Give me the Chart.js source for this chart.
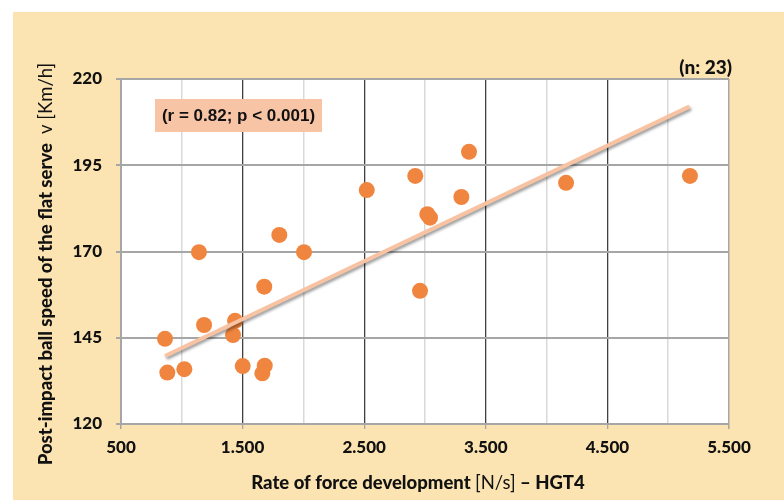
<!DOCTYPE html>
<html>
<head>
<meta charset="utf-8">
<script src="https://cdn.jsdelivr.net/npm/chart.js@4/dist/chart.umd.min.js"></script>
<style>
  html, body { margin: 0; padding: 0; background: #ffffff; }
  #wrap { width: 784px; height: 500px; }
</style>
</head>
<body>
<div id="wrap"><canvas id="c" width="784" height="500"></canvas></div>
<script>
// ---- data ----
const rfdValues   = [862, 881, 1021, 1141, 1183, 1438, 1421, 1501, 1662, 1682, 1678, 1802, 2005, 2521, 2920, 2959, 3019, 3041, 3299, 3362, 4160, 5179];
const speedValues = [144.7, 134.9, 135.9, 169.8, 148.7, 149.9, 145.8, 136.8, 134.7, 136.9, 159.8, 174.8, 169.8, 187.8, 191.9, 158.6, 180.8, 179.8, 185.8, 198.9, 189.9, 191.9];
const trendX = [862, 5174];
const trendY = [139.7, 212.0];
const xTickValues = [500, 1500, 2500, 3500, 4500, 5500];
const yTickValues = [120, 145, 170, 195, 220];
const statText = "(r = 0.82; p < 0.001)";
const nText = "(n: 23)";
const xTitleParts = [["Rate of force development ", "900"], ["[N/s]", "normal"], [" \u2013 HGT4", "900"]];
const yTitleParts = [["Post-impact ball speed of the flat serve ", "900"], [" v [Km/h]", "normal"]];

const BEIGE = '#FBE4B1';
const ORANGE = '#F0853F';
const PEACH = '#F8C3A3';
const FAMILY = 'Lato, sans-serif';

function fmt(v) {
  if (v < 1000) return String(v);
  return Math.floor(v / 1000) + '.' + String(v % 1000).padStart(3, '0');
}

function drawParts(ctx, parts, size, family) {
  let total = 0;
  const widths = parts.map(([t, w]) => { ctx.font = w + ' ' + size + 'px ' + family; const m = ctx.measureText(t).width; total += m; return m; });
  let x = -total / 2;
  parts.forEach(([t, w], i) => {
    ctx.font = w + ' ' + size + 'px ' + family;
    ctx.fillText(t, x, 0);
    x += widths[i];
  });
}

const decor = {
  id: 'decor',
  beforeDraw(chart) {
    const c = chart.ctx, a = chart.chartArea;
    c.save();
    c.fillStyle = '#ffffff';
    c.fillRect(0, 0, chart.width, chart.height);
    c.fillStyle = BEIGE;
    c.fillRect(13, 12, chart.width - 13, chart.height - 12);
    c.fillStyle = '#ffffff';
    c.fillRect(a.left, a.top, a.right - a.left, a.bottom - a.top);
    c.restore();
  },
  beforeDatasetsDraw(chart) {
    const c = chart.ctx, a = chart.chartArea;
    c.save();
    c.fillStyle = '#F8C4A6';
    c.fillRect(a.left + 34, a.top + 20, 167, 33);
    c.fillStyle = '#111111';
    c.font = 'bold 17px "Liberation Sans", Arial, sans-serif';
    c.textAlign = 'center';
    c.textBaseline = 'middle';
    c.fillText(statText, a.left + 34 + 83.5, a.top + 20 + 17);
    c.restore();
  },
  beforeDatasetDraw(chart, args) {
    if (args.index === 0) {
      const c = chart.ctx;
      c.save();
      c.shadowColor = 'rgba(0,0,0,0.4)';
      c.shadowBlur = 3;
      c.shadowOffsetX = 1.5;
      c.shadowOffsetY = 2;
    }
  },
  afterDatasetDraw(chart, args) {
    if (args.index === 0) chart.ctx.restore();
  },
  afterDraw(chart) {
    const c = chart.ctx;
    c.save();
    c.fillStyle = '#111111';
    c.textBaseline = 'middle';
    c.font = '900 19px ' + FAMILY;
    c.textAlign = 'right';
    c.fillText(nText, 732, 68);
    c.textAlign = 'left';
    c.save();
    c.translate(418, 483);
    drawParts(c, xTitleParts, 18.5, FAMILY);
    c.restore();
    c.save();
    c.translate(46, 264);
    c.rotate(-Math.PI / 2);
    drawParts(c, yTitleParts, 18.5, FAMILY);
    c.restore();
    c.restore();
  }
};

const xGridColor = ctx => {
  const v = ctx.tick ? ctx.tick.value : null;
  if (v === 500 || v === 5500) return '#A6A6A6';
  if (xTickValues.includes(v)) return '#404040';
  return '#D9D9D9';
};

new Chart(document.getElementById('c'), {
  type: 'scatter',
  data: {
    datasets: [
      {
        type: 'line',
        data: trendX.map((x, i) => ({ x, y: trendY[i] })),
        borderColor: PEACH,
        borderWidth: 4,
        pointRadius: 0,
        fill: false,
        tension: 0
      },
      {
        data: rfdValues.map((x, i) => ({ x, y: speedValues[i] })),
        backgroundColor: ORANGE,
        borderColor: ORANGE,
        borderWidth: 0,
        pointRadius: 8,
        pointHoverRadius: 8
      }
    ]
  },
  plugins: [decor],
  options: {
    responsive: false,
    animation: false,
    events: [],
    layout: { padding: { left: 0, top: 79, right: 55, bottom: 0 } },
    plugins: { legend: { display: false }, tooltip: { enabled: false }, title: { display: false } },
    scales: {
      x: {
        type: 'linear',
        min: 500, max: 5500,
        afterBuildTicks(s) {
          const t = [];
          for (let i = 0; i < xTickValues.length; i++) {
            t.push({ value: xTickValues[i] });
            if (i < xTickValues.length - 1) t.push({ value: (xTickValues[i] + xTickValues[i + 1]) / 2 });
          }
          s.ticks = t;
        },
        ticks: {
          autoSkip: false, maxRotation: 0, minRotation: 0,
          callback: v => xTickValues.includes(v) ? fmt(v) : '',
          color: '#111111',
          font: { family: FAMILY, weight: '900', size: 17 },
          padding: 8
        },
        grid: {
          color: xGridColor,
          lineWidth: ctx => (ctx.tick && xTickValues.includes(ctx.tick.value) && ctx.tick.value !== 500 && ctx.tick.value !== 5500) ? 1.3 : 1.5,
          tickLength: 5,
          tickColor: ctx => (ctx.tick && xTickValues.includes(ctx.tick.value)) ? '#A6A6A6' : 'rgba(0,0,0,0)'
        },
        border: { color: '#A6A6A6', width: 2 },
        afterFit(s) { s.height = 76; }
      },
      y: {
        min: 120, max: 220,
        afterBuildTicks(s) { s.ticks = yTickValues.map(v => ({ value: v })); },
        ticks: {
          color: '#111111',
          font: { family: FAMILY, weight: '900', size: 17 },
          padding: 14
        },
        grid: { color: '#A6A6A6', lineWidth: 2, tickLength: 5, tickColor: '#A6A6A6' },
        border: { color: '#A6A6A6', width: 2 },
        afterFit(s) { s.width = 121; }
      }
    }
  }
});
</script>
</body>
</html>
